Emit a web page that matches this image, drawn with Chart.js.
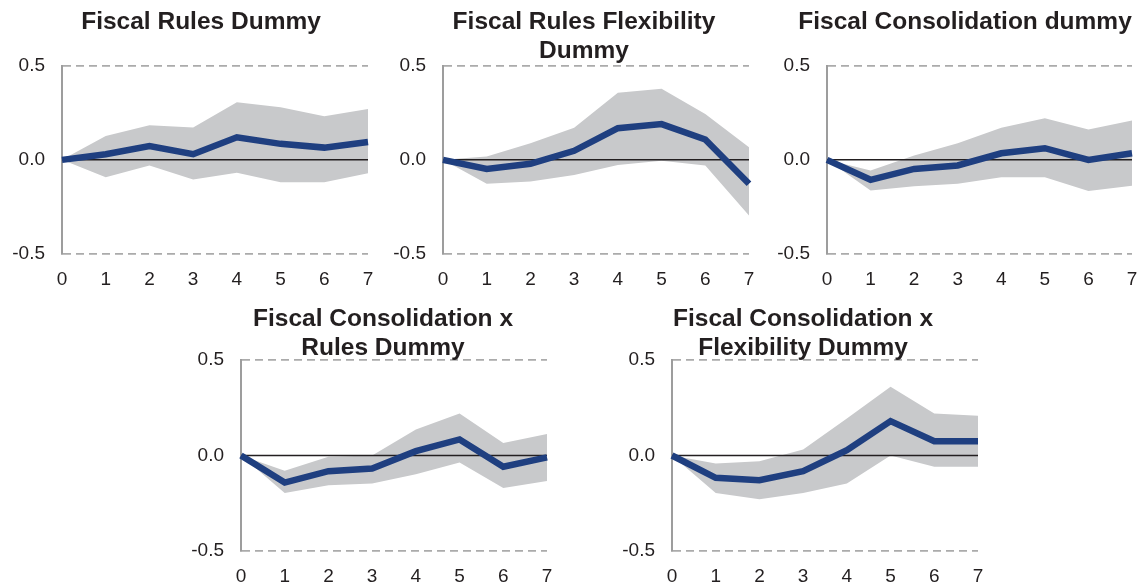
<!DOCTYPE html>
<html>
<head>
<meta charset="utf-8">
<script src="https://cdn.jsdelivr.net/npm/chart.js@4/dist/chart.umd.min.js"></script>
<style>
  html, body { margin: 0; padding: 0; background: #ffffff; }
  body { position: relative; width: 1143px; height: 588px; overflow: hidden; }
  canvas { position: absolute; }
</style>
</head>
<body>
<canvas id="c1"></canvas>
<canvas id="c2"></canvas>
<canvas id="c3"></canvas>
<canvas id="c4"></canvas>
<canvas id="c5"></canvas>
<script>
// Horizons (years after the shock)
const horizons = ['0', '1', '2', '3', '4', '5', '6', '7'];

// Fiscal rules dummy
const rulesIrf   = [0, 0.030, 0.073, 0.030, 0.120, 0.085, 0.065, 0.095];
const rulesUpper = [0, 0.126, 0.184, 0.172, 0.306, 0.280, 0.232, 0.270];
const rulesLower = [0, -0.092, -0.030, -0.104, -0.069, -0.119, -0.119, -0.071];

// Fiscal rules flexibility dummy
const flexIrf   = [0, -0.048, -0.021, 0.048, 0.168, 0.190, 0.108, -0.127];
const flexUpper = [0, 0.018, 0.088, 0.170, 0.356, 0.377, 0.244, 0.067];
const flexLower = [0, -0.127, -0.115, -0.080, -0.027, -0.005, -0.030, -0.296];

// Fiscal consolidation dummy
const consIrf   = [0, -0.106, -0.048, -0.030, 0.035, 0.062, 0.000, 0.035];
const consUpper = [0, -0.057, 0.023, 0.088, 0.170, 0.221, 0.161, 0.209];
const consLower = [0, -0.163, -0.140, -0.127, -0.092, -0.092, -0.166, -0.138];

// Fiscal consolidation x rules dummy
const consRulesIrf   = [0, -0.142, -0.082, -0.068, 0.023, 0.084, -0.059, -0.010];
const consRulesUpper = [0, -0.080, -0.007, 0.000, 0.136, 0.220, 0.066, 0.112];
const consRulesLower = [0, -0.196, -0.156, -0.147, -0.098, -0.037, -0.170, -0.133];

// Fiscal consolidation x flexibility dummy
const consFlexIrf   = [0, -0.117, -0.129, -0.082, 0.028, 0.180, 0.075, 0.075];
const consFlexUpper = [0, -0.042, -0.030, 0.031, 0.194, 0.360, 0.220, 0.208];
const consFlexLower = [0, -0.196, -0.229, -0.196, -0.147, 0.000, -0.059, -0.059];

// Baseline at zero
const zeroLine = [0, 0, 0, 0, 0, 0, 0, 0];

// Axis range and ticks
const yMin = -0.5, yMax = 0.5, yStep = 0.5;

const FONT = "'Liberation Sans', Arial, Helvetica, sans-serif";
const INK = '#231f20';
const BLUE = '#1f3f80';
const BAND = '#c8c9cb';
const GRID = '#ababab';
const AXIS = '#9d9d9d';
const AXIS_W = 55;    // width of the left value axis
const TITLE_LH = 29;  // title line height in px

function panel(id, box, title, irf, upper, lower) {
  const canvas = document.getElementById(id);
  canvas.width = box.w;
  canvas.height = box.h;
  canvas.style.left = box.x + 'px';
  canvas.style.top = box.y + 'px';

  const lines = title.length;
  return new Chart(canvas, {
    type: 'line',
    data: {
      labels: horizons,
      datasets: [
        { data: irf, borderColor: BLUE, borderWidth: 6.5, pointRadius: 0, fill: false, tension: 0, order: 0 },
        { data: zeroLine, borderColor: INK, borderWidth: 1.5, pointRadius: 0, fill: false, order: 1 },
        { data: upper, borderWidth: 0, borderColor: 'transparent', backgroundColor: BAND, pointRadius: 0, fill: '+1', order: 2 },
        { data: lower, borderWidth: 0, borderColor: 'transparent', pointRadius: 0, fill: false, order: 3 }
      ]
    },
    options: {
      responsive: false,
      animation: false,
      devicePixelRatio: 1,
      layout: { padding: 0 },
      plugins: {
        legend: { display: false },
        tooltip: { enabled: false },
        title: {
          display: true,
          text: title,
          color: INK,
          font: { family: FONT, size: 24.5, weight: 'bold', lineHeight: TITLE_LH + 'px' },
          padding: { top: box.titleTop, bottom: box.plotTop - box.titleTop - lines * TITLE_LH }
        }
      },
      scales: {
        x: {
          grid: { display: false, drawTicks: false },
          border: { display: false },
          ticks: {
            color: INK,
            font: { family: FONT, size: 19, lineHeight: '52px' },
            padding: 0,
            maxRotation: 0,
            autoSkip: false
          },
          afterFit: (s) => { s.height = 36; }
        },
        y: {
          min: yMin,
          max: yMax,
          ticks: {
            stepSize: yStep,
            color: INK,
            font: { family: FONT, size: 19 },
            padding: 17,
            callback: (v) => Number(v).toFixed(1)
          },
          grid: {
            drawTicks: false,
            lineWidth: 1.8,
            color: (ctx) => (ctx.tick && ctx.tick.value === 0 ? 'rgba(0,0,0,0)' : GRID)
          },
          border: { display: true, color: AXIS, width: 2, dash: [8, 5] },
          afterFit: (s) => { s.width = AXIS_W; }
        },
        // empty spacer on the right so the title sits over the whole panel
        spacer: {
          type: 'linear',
          position: 'right',
          display: true,
          grid: { display: false, drawTicks: false },
          border: { display: false },
          ticks: { display: false },
          afterFit: (s) => { s.width = box.spacer; }
        }
      }
    }
  });
}

panel('c1', { x: 7,   y: 0,   w: 388, h: 290, spacer: 27, plotTop: 65.7, titleTop: 8 },
  ['Fiscal Rules Dummy'], rulesIrf, rulesUpper, rulesLower);
panel('c2', { x: 388, y: 0,   w: 392, h: 290, spacer: 31, plotTop: 65.7, titleTop: 8 },
  ['Fiscal Rules Flexibility', 'Dummy'], flexIrf, flexUpper, flexLower);
panel('c3', { x: 772, y: 0,   w: 386, h: 290, spacer: 26, plotTop: 65.7, titleTop: 8 },
  ['Fiscal Consolidation dummy'], consIrf, consUpper, consLower);
panel('c4', { x: 186, y: 288, w: 394, h: 299, spacer: 33, plotTop: 72, titleTop: 17 },
  ['Fiscal Consolidation x', 'Rules Dummy'], consRulesIrf, consRulesUpper, consRulesLower);
panel('c5', { x: 617, y: 288, w: 372, h: 299, spacer: 11, plotTop: 72, titleTop: 17 },
  ['Fiscal Consolidation x', 'Flexibility Dummy'], consFlexIrf, consFlexUpper, consFlexLower);
</script>
</body>
</html>
